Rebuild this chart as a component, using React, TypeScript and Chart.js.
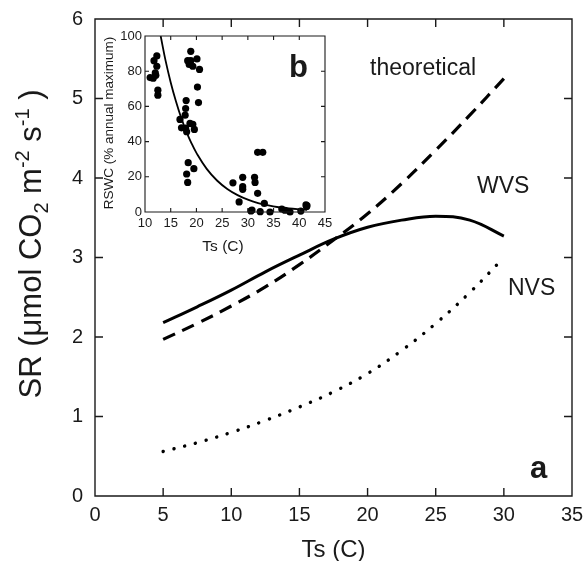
import React, { useEffect, useRef } from "react";
import { Chart, registerables } from "chart.js";
Chart.register(...registerables);

const FONT = "'Liberation Sans', Arial, Helvetica, sans-serif";
const INK = "#1a1a1a";

// ---- Panel (a): soil respiration vs soil temperature ----
const mainTemps = [5, 7.5, 10, 12.5, 15, 17.5, 20, 22.5, 25, 27.5, 30];
const theoreticalSR = [1.97, 2.17, 2.39, 2.63, 2.91, 3.22, 3.55, 3.93, 4.35, 4.79, 5.25];
const wvsSR = [2.18, 2.38, 2.59, 2.82, 3.03, 3.23, 3.38, 3.47, 3.52, 3.47, 3.27];
const nvsSR = [0.56, 0.67, 0.8, 0.95, 1.12, 1.31, 1.54, 1.83, 2.17, 2.56, 3.0];
const mainXTicks = [0, 5, 10, 15, 20, 25, 30, 35];
const mainYTicks = [0, 1, 2, 3, 4, 5, 6];

// ---- Panel (b): RSWC vs soil temperature ----
const rswcTemps = [
  11.0, 11.6, 12.1, 12.3, 11.75, 12.3, 12.5, 12.5, 12.0,
  18.9, 18.3, 18.9, 20.1, 18.6, 19.3, 20.6, 20.2, 20.4, 18.0, 17.9, 17.8, 16.8, 17.1, 17.9, 18.1, 18.75, 19.3, 19.6, 18.4, 18.1, 18.3, 19.5,
  27.1, 29.0, 29.0, 29.0, 28.3, 31.3, 31.4, 31.9, 31.9, 32.9, 33.2, 30.8, 30.6, 32.4, 34.3, 36.6, 37.2, 38.2, 40.3, 41.3, 41.4, 41.5,
];
const rswcValues = [
  76.4, 76, 77.7, 88.7, 86, 82.8, 69.2, 66.4, 79,
  91.3, 86, 86, 87, 83.8, 82.8, 81, 71, 62.2, 63.3, 58.8, 55, 52.6, 47.8, 47.6, 45.6, 50.3, 49.8, 46.9, 28, 21.6, 16.8, 24.6,
  16.6, 19.7, 14.4, 12.9, 5.7, 19.7, 16.8, 10.6, 33.9, 33.9, 4.9, 1.1, 0.6, 0.2, 0, 1.7, 1, 0, 0.5, 4, 3, 3.6,
];
const fitTemps = [13.05, 14, 15, 16, 17, 18, 19, 20, 22, 24, 26, 28, 30, 32, 34, 36, 38, 40, 41.5];
const fitValues = [100, 86, 73.6, 63, 53.8, 46, 39.3, 33.6, 24.5, 17.9, 13.1, 9.6, 7.0, 5.1, 3.7, 2.7, 2.0, 1.5, 1.2];
const insetXTicks = [10, 15, 20, 25, 30, 35, 40, 45];
const insetYTicks = [0, 20, 40, 60, 80, 100];

type Seg = { t: string; size: number; dy: number; bold?: boolean };

function drawRich(ctx: CanvasRenderingContext2D, segs: Seg[], cx: number, cy: number, rotate: boolean) {
  ctx.save();
  ctx.translate(cx, cy);
  if (rotate) ctx.rotate(-Math.PI / 2);
  let total = 0;
  for (const s of segs) {
    ctx.font = `${s.size}px ${FONT}`;
    total += ctx.measureText(s.t).width;
  }
  let x = -total / 2;
  ctx.textBaseline = "alphabetic";
  ctx.textAlign = "left";
  ctx.fillStyle = INK;
  for (const s of segs) {
    ctx.font = `${s.size}px ${FONT}`;
    ctx.fillText(s.t, x, s.dy);
    x += ctx.measureText(s.t).width;
  }
  ctx.restore();
}

function frameAndTicks(chart: any, xTicks: number[], yTicks: number[], len: number, lw: number) {
  const ctx = chart.ctx as CanvasRenderingContext2D;
  const { left, right, top, bottom } = chart.chartArea;
  const xs = chart.scales.x;
  const ys = chart.scales.y;
  ctx.save();
  ctx.strokeStyle = INK;
  ctx.lineWidth = lw;
  ctx.beginPath();
  ctx.rect(left, top, right - left, bottom - top);
  for (const v of xTicks) {
    const px = xs.getPixelForValue(v);
    ctx.moveTo(px, bottom);
    ctx.lineTo(px, bottom - len);
    ctx.moveTo(px, top);
    ctx.lineTo(px, top + len);
  }
  for (const v of yTicks) {
    const py = ys.getPixelForValue(v);
    ctx.moveTo(left, py);
    ctx.lineTo(left + len, py);
    ctx.moveTo(right, py);
    ctx.lineTo(right - len, py);
  }
  ctx.stroke();
  ctx.restore();
}

function toXY(xs: number[], ys: number[]) {
  return xs.map((x, i) => ({ x, y: ys[i] }));
}

function MainChart() {
  const ref = useRef<HTMLCanvasElement>(null);
  useEffect(() => {
    const decor = {
      id: "decor",
      afterDraw(chart: any) {
        const ctx = chart.ctx as CanvasRenderingContext2D;
        frameAndTicks(chart, mainXTicks, mainYTicks, 8, 1.4);
        // y title
        const big = 31;
        const small = 20;
        const base = big * 0.36;
        drawRich(
          ctx,
          [
            { t: "SR (μmol CO", size: big, dy: base },
            { t: "2", size: small, dy: base + 7 },
            { t: " m", size: big, dy: base },
            { t: "-2", size: small, dy: base - 12 },
            { t: " s", size: big, dy: base },
            { t: "-1", size: small, dy: base - 12 },
            { t: " )", size: big, dy: base },
          ],
          30,
          244,
          true
        );
        // x title
        drawRich(ctx, [{ t: "Ts (C)", size: 24, dy: 24 * 0.36 }], (chart.chartArea.left + chart.chartArea.right) / 2, 548, false);
        ctx.save();
        ctx.fillStyle = INK;
        ctx.textAlign = "left";
        ctx.textBaseline = "alphabetic";
        ctx.font = `23px ${FONT}`;
        ctx.fillText("theoretical", 370, 75);
        ctx.fillText("WVS", 477, 193);
        ctx.fillText("NVS", 508, 295);
        ctx.font = `bold 31px ${FONT}`;
        ctx.fillText("a", 530, 478);
        ctx.restore();
      },
    };
    const chart = new Chart(ref.current!, {
      type: "scatter",
      data: {
        datasets: [
          {
            label: "theoretical",
            data: toXY(mainTemps, theoreticalSR),
            showLine: true,
            borderColor: "#000",
            borderWidth: 3.2,
            borderDash: [13, 8],
            pointRadius: 0,
            tension: 0.4,
            fill: false,
          },
          {
            label: "WVS",
            data: toXY(mainTemps, wvsSR),
            showLine: true,
            borderColor: "#000",
            borderWidth: 3,
            pointRadius: 0,
            tension: 0.4,
            fill: false,
          },
          {
            label: "NVS",
            data: toXY(mainTemps, nvsSR),
            showLine: true,
            borderColor: "#000",
            borderWidth: 3.4,
            borderDash: [0.1, 11],
            borderCapStyle: "round",
            pointRadius: 0,
            tension: 0.4,
            fill: false,
          },
        ],
      },
      options: {
        responsive: false,
        animation: false,
        events: [],
        layout: { padding: { left: 0, right: 11, top: 19, bottom: 0 } },
        plugins: { legend: { display: false }, tooltip: { enabled: false } },
        scales: {
          x: {
            type: "linear",
            min: 0,
            max: 35,
            grid: { display: false, drawTicks: false },
            border: { display: false },
            ticks: { stepSize: 5, padding: 7, color: INK, font: { family: FONT, size: 20 } },
            afterFit(s: any) {
              s.height = 65;
              s.paddingLeft = 0;
              s.paddingRight = 0;
            },
          },
          y: {
            type: "linear",
            min: 0,
            max: 6,
            grid: { display: false, drawTicks: false },
            border: { display: false },
            ticks: { stepSize: 1, padding: 12, color: INK, font: { family: FONT, size: 20 } },
            afterFit(s: any) {
              s.width = 95;
              s.paddingTop = 0;
              s.paddingBottom = 0;
            },
          },
        },
      },
      plugins: [decor],
    } as any);
    return () => chart.destroy();
  }, []);
  return <canvas ref={ref} width={583} height={561} style={{ position: "absolute", left: 0, top: 0, display: "block" }} />;
}

function InsetChart() {
  const ref = useRef<HTMLCanvasElement>(null);
  useEffect(() => {
    const decor = {
      id: "decorInset",
      afterDraw(chart: any) {
        const ctx = chart.ctx as CanvasRenderingContext2D;
        frameAndTicks(chart, insetXTicks, insetYTicks, 4, 1.1);
        drawRich(ctx, [{ t: "RSWC (% annual maximum)", size: 13.5, dy: 13.5 * 0.36 }], 12, 98, true);
        drawRich(ctx, [{ t: "Ts (C)", size: 15.5, dy: 15.5 * 0.36 }], 127, 220, false);
        ctx.save();
        ctx.fillStyle = INK;
        ctx.font = `bold 31px ${FONT}`;
        ctx.textAlign = "left";
        ctx.textBaseline = "alphabetic";
        ctx.fillText("b", 193, 52);
        ctx.restore();
      },
    };
    const chart = new Chart(ref.current!, {
      type: "scatter",
      data: {
        datasets: [
          {
            label: "RSWC",
            data: toXY(rswcTemps, rswcValues),
            pointRadius: 3.6,
            pointBackgroundColor: "#000",
            pointBorderWidth: 0,
            showLine: false,
            clip: false,
          },
          {
            label: "fit",
            data: toXY(fitTemps, fitValues),
            showLine: true,
            borderColor: "#000",
            borderWidth: 1.8,
            pointRadius: 0,
            tension: 0.4,
            fill: false,
          },
        ],
      },
      options: {
        responsive: false,
        animation: false,
        events: [],
        layout: { padding: { left: 0, right: 11, top: 11, bottom: 0 } },
        plugins: { legend: { display: false }, tooltip: { enabled: false } },
        scales: {
          x: {
            type: "linear",
            min: 10,
            max: 45,
            grid: { display: false, drawTicks: false },
            border: { display: false },
            ticks: { stepSize: 5, padding: 4, color: INK, font: { family: FONT, size: 13 } },
            afterFit(s: any) {
              s.height = 45;
              s.paddingLeft = 0;
              s.paddingRight = 0;
            },
          },
          y: {
            type: "linear",
            min: 0,
            max: 100,
            grid: { display: false, drawTicks: false },
            border: { display: false },
            ticks: { stepSize: 20, padding: 3, color: INK, font: { family: FONT, size: 13 } },
            afterFit(s: any) {
              s.width = 49;
              s.paddingTop = 0;
              s.paddingBottom = 0;
            },
          },
        },
      },
      plugins: [decor],
    } as any);
    return () => chart.destroy();
  }, []);
  return <canvas ref={ref} width={240} height={232} style={{ position: "absolute", left: 96, top: 25, display: "block" }} />;
}

export default function App() {
  return (
    <div style={{ position: "absolute", left: 0, top: 0, width: 583, height: 561, background: "#fff" }}>
      <MainChart />
      <InsetChart />
    </div>
  );
}
